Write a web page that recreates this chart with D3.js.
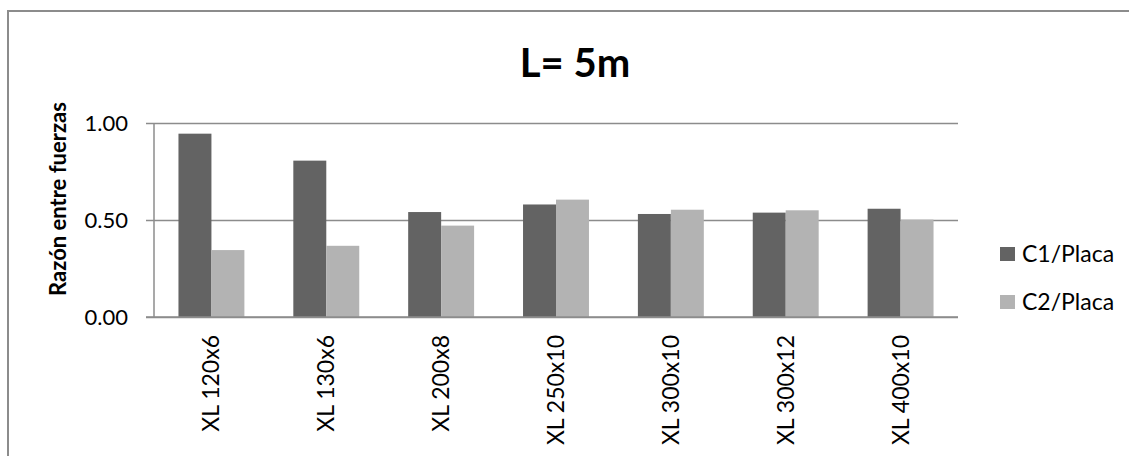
<!DOCTYPE html>
<html>
<head>
<meta charset="utf-8">
<script src="https://cdn.jsdelivr.net/npm/d3@7"></script>
<style>
  html, body { margin: 0; padding: 0; background: #fff; }
  svg { display: block; }
  text { font-family: Lato, "Open Sans", sans-serif; fill: #000; }
</style>
</head>
<body>
<svg id="chart" width="1129" height="456"></svg>
<script>
const categories = ["XL 120x6", "XL 130x6", "XL 200x8", "XL 250x10", "XL 300x10", "XL 300x12", "XL 400x10"];
const seriesNames = ["C1/Placa", "C2/Placa"];
const c1Values = [0.945, 0.806, 0.541, 0.580, 0.531, 0.538, 0.558];
const c2Values = [0.345, 0.367, 0.471, 0.605, 0.553, 0.550, 0.502];
const yTicks = [0, 0.5, 1.0];
const colors = ["#636363", "#b3b3b3"];
const titleText = "L= 5m";
const yTitle = "Razón entre fuerzas";

const svg = d3.select("#chart");
const pLeft = 154, pRight = 958, pTop = 123, pBottom = 317;

// outer border
svg.append("rect").attr("x", 8).attr("y", 11).attr("width", 1140).attr("height", 460)
  .attr("fill", "none").attr("stroke", "#8c8c8c").attr("stroke-width", 2);

const x0 = d3.scaleBand().domain(categories).range([pLeft, pRight]).paddingInner(0.426).paddingOuter(0.213);
const x1 = d3.scaleBand().domain(seriesNames).range([0, x0.bandwidth()]);
const y = d3.scaleLinear().domain([0, 1]).range([pBottom, pTop]);

// gridlines
const yAxis = d3.axisLeft(y).tickValues(yTicks).tickFormat(d3.format(".2f")).tickSize(-(pRight - pLeft + 8)).tickPadding(18);
const gy = svg.append("g").attr("transform", `translate(${pLeft - 8},0)`).call(yAxis);
gy.select(".domain").remove();
gy.selectAll(".tick line").attr("stroke", "#8c8c8c").attr("stroke-width", 1.5);
gy.selectAll(".tick text").attr("font-size", 22).attr("fill", "#000").attr("font-family", "Lato, sans-serif");

// y axis line
svg.append("line").attr("x1", pLeft).attr("x2", pLeft).attr("y1", pTop).attr("y2", pBottom)
  .attr("stroke", "#8c8c8c").attr("stroke-width", 1.5);

const data = categories.map((c, i) => ({ cat: c, vals: [c1Values[i], c2Values[i]] }));

const groups = svg.append("g").selectAll("g").data(data).join("g")
  .attr("transform", d => `translate(${x0(d.cat)},0)`);
groups.selectAll("rect").data(d => d.vals.map((v, j) => ({ name: seriesNames[j], v, j })))
  .join("rect")
  .attr("x", d => x1(d.name))
  .attr("y", d => y(d.v))
  .attr("width", x1.bandwidth())
  .attr("height", d => y(0) - y(d.v))
  .attr("fill", d => colors[d.j]);

// x axis baseline
svg.append("line").attr("x1", pLeft - 8).attr("x2", pRight).attr("y1", pBottom).attr("y2", pBottom)
  .attr("stroke", "#8c8c8c").attr("stroke-width", 1.5);

// x labels
const xAxis = d3.axisBottom(x0).tickSize(0).tickPadding(0);
const gx = svg.append("g").attr("transform", `translate(0,${pBottom})`).call(xAxis);
gx.select(".domain").remove();
gx.selectAll(".tick text")
  .attr("font-size", 23).attr("fill", "#000").attr("font-family", "Lato, sans-serif")
  .attr("text-anchor", "end")
  .attr("dy", "0.35em")
  .attr("transform", "translate(0,18) rotate(-90)")
  .attr("x", 0).attr("y", 0);

// title
svg.append("text").attr("x", 575).attr("y", 77).attr("text-anchor", "middle")
  .attr("font-size", 40).attr("font-weight", "bold").text(titleText);

// y title
svg.append("text").attr("transform", "translate(66,199) rotate(-90)")
  .attr("text-anchor", "middle").attr("font-size", 22).attr("font-weight", "bold").text(yTitle);

// legend
const legend = svg.append("g").selectAll("g").data(seriesNames).join("g")
  .attr("transform", (d, i) => `translate(1000,${247 + i * 48})`);
legend.append("rect").attr("width", 15).attr("height", 14).attr("fill", (d, i) => colors[i]);
legend.append("text").attr("x", 22).attr("y", 7).attr("dy", "0.35em")
  .attr("font-size", 23).text(d => d);
</script>
</body>
</html>
